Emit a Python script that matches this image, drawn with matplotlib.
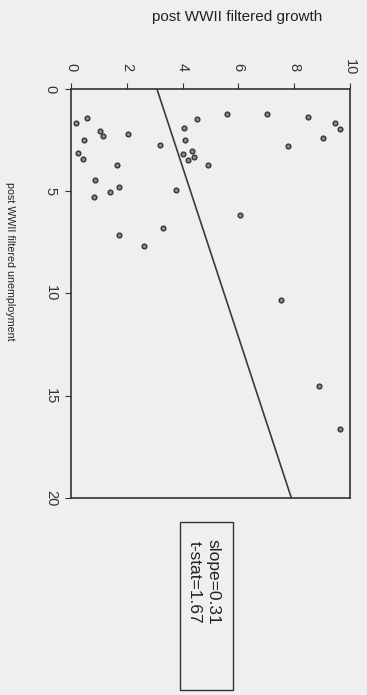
import matplotlib
matplotlib.use("Agg")
import matplotlib.pyplot as plt
from matplotlib.patches import Rectangle

plt.rcParams['font.family'] = ['Liberation Sans', 'DejaVu Sans']

# filtered series, one point per observation
unemployment = [1.65, 1.40, 2.04, 2.31, 2.22, 2.48, 3.15, 3.42, 2.74, 3.73,
                4.43, 4.79, 5.05, 5.30, 4.94, 6.78, 7.12, 7.68, 1.47, 1.91,
                2.51, 3.19, 3.03, 3.33, 3.49, 3.70, 1.24, 1.24, 1.39, 1.65,
                1.97, 2.38, 2.77, 6.18, 10.33, 14.54, 16.64]
growth = [0.17, 0.56, 1.05, 1.15, 2.06, 0.47, 0.24, 0.44, 3.18, 1.64,
          0.86, 1.73, 1.40, 0.84, 3.76, 3.30, 1.71, 2.61, 4.51, 4.04,
          4.08, 4.03, 4.33, 4.40, 4.21, 4.92, 5.59, 7.04, 8.50, 9.47,
          9.66, 9.02, 7.79, 6.06, 7.52, 8.90, 9.63]

# fitted line end points
fit_unemployment = [0, 20]
fit_growth = [3.08, 7.90]

slope = 0.31
tstat = 1.67

bg = '#efefef'
fig = plt.figure(figsize=(3.67, 6.95), dpi=100, facecolor=bg)
ax = fig.add_axes([0.1935, 0.2835, 0.760, 0.5885], facecolor=bg)

ax.plot(fit_growth, fit_unemployment, color='#3a3a3a', lw=1.2)
ax.plot(growth, unemployment, 'o', ms=3.4, mfc='#8a8a8a', mec='#353535', mew=1.0)

ax.set_xlim(0, 10)
ax.set_ylim(20, 0)
ax.set_xticks([0, 2, 4, 6, 8, 10])
ax.set_yticks([0, 5, 10, 15, 20])
ax.xaxis.tick_top()
ax.tick_params(axis='x', length=4, width=0.8, pad=12, labelsize=10.5,
               labelrotation=-90, colors='#333333')
ax.tick_params(axis='y', length=4.5, width=0.8, pad=5, labelsize=10.5,
               labelrotation=-90, colors='#333333')
for lab in ax.get_yticklabels():
    lab.set_verticalalignment('center')
for lab in ax.get_xticklabels():
    lab.set_verticalalignment('center')
for s in ax.spines.values():
    s.set_color('#333333')
    s.set_linewidth(1.2)

fig.text(237 / 367, 1 - 17 / 695, 'post WWII filtered growth', ha='center',
         va='center', fontsize=11, color='#222222')
fig.text(10 / 367, 1 - 261 / 695, 'post WWII filtered unemployment',
         rotation=-90, ha='center', va='center', fontsize=7.7, color='#222222')

# statistics box
fig.patches.append(Rectangle((180 / 367, 1 - 690 / 695), 53 / 367, 168 / 695,
                             transform=fig.transFigure, fill=False,
                             ec='#333333', lw=1.0))
fig.text(204 / 367, 1 - 539 / 695, f'slope={slope:.2f}\nt-stat={tstat:.2f}',
         rotation=-90, ha='center', va='top', fontsize=12.5, color='#222222',
         linespacing=1.3)

fig.savefig('out.png', dpi=100, facecolor=bg)
